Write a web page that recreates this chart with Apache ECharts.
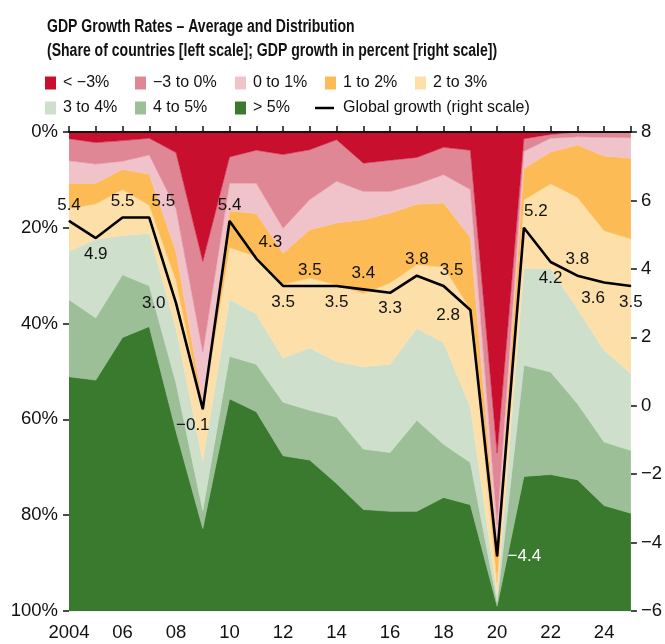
<!DOCTYPE html>
<html>
<head>
<meta charset="utf-8">
<script src="https://cdn.jsdelivr.net/npm/echarts@6/dist/echarts.min.js"></script>
<style>
  html, body { margin: 0; padding: 0; background: #fff; }
  #chart { width: 665px; height: 644px; }
</style>
</head>
<body>
<div id="chart"></div>
<script>
// years on the x axis
const years = ['2004', '2005', '2006', '2007', '2008', '2009', '2010', '2011', '2012', '2013', '2014',
    '2015', '2016', '2017', '2018', '2019', '2020', '2021', '2022', '2023', '2024', '2025'];

// share of countries in each growth bucket (percent)
const below3 = [1.4, 2.2, 1.8, 1.3, 4.3, 27.0, 5.2, 3.8, 4.7, 3.7, 1.6, 6.5, 5.9, 5.3, 3.2, 3.8, 67.0, 1.4, 0.5, 0.0, 0.0, 0.0];
const minus3to0 = [4.6, 4.5, 4.3, 3.5, 11.7, 19.0, 5.5, 6.9, 15.4, 10.4, 8.7, 5.9, 6.5, 5.6, 5.7, 8.2, 15.0, 2.6, 0.8, 1.0, 1.1, 1.2];
const zeroTo1 = [4.7, 4.0, 1.7, 4.0, 9.0, 10.4, 5.8, 6.3, 5.2, 6.3, 8.7, 5.9, 4.5, 4.2, 5.9, 10.0, 4.0, 3.6, 2.9, 1.7, 3.9, 4.3];
const oneTo2 = [5.3, 4.3, 4.2, 6.5, 6.0, 1.7, 7.6, 9.0, 6.5, 10.1, 12.9, 15.4, 14.6, 12.6, 13.4, 15.0, 8.0, 6.6, 6.6, 10.9, 15.6, 16.8];
const twoTo3 = [8.9, 7.4, 9.6, 5.9, 10.0, 10.6, 10.8, 12.0, 15.4, 14.6, 16.0, 15.3, 17.0, 13.3, 15.8, 20.4, 2.7, 14.3, 17.7, 23.3, 25.0, 28.1];
const threeTo4 = [10.1, 16.4, 8.2, 10.9, 11.4, 10.3, 11.9, 10.5, 9.2, 13.0, 11.6, 17.2, 18.4, 19.2, 21.2, 11.6, 1.5, 20.2, 21.6, 19.8, 19.1, 16.1];
const fourTo5 = [16.1, 13.0, 13.1, 8.5, 10.1, 3.8, 8.9, 9.9, 11.2, 10.4, 13.9, 12.6, 12.3, 19.0, 11.1, 8.8, 0.8, 23.2, 21.4, 15.9, 13.3, 13.1];
const above5 = [48.9, 48.2, 57.1, 59.4, 37.5, 17.2, 44.3, 41.6, 32.4, 31.5, 26.6, 21.2, 20.8, 20.8, 23.7, 22.2, 1.0, 28.1, 28.5, 27.4, 22.0, 20.4];

// global GDP growth, percent (right scale)
const globalGrowth = [5.4, 4.9, 5.5, 5.5, 3.0, -0.1, 5.4, 4.3, 3.5, 3.5, 3.5, 3.4, 3.3, 3.8, 3.5, 2.8, -4.4, 5.2, 4.2, 3.8, 3.6, 3.5];

const bandNames = ['< \u22123%', '\u22123 to 0%', '0 to 1%', '1 to 2%', '2 to 3%', '3 to 4%', '4 to 5%', '> 5%'];
const lineName = 'Global growth (right scale)';
const titleLines = ['GDP Growth Rates \u2013 Average and Distribution',
    '(Share of countries [left scale]; GDP growth in percent [right scale])'];

// styling
const FONT = '"Liberation Sans", Arial, sans-serif';
const bandColors = ['#c8102e', '#e08795', '#f0c3ca', '#fdbb55', '#fddfa9', '#cedfcc', '#9dbf98', '#3a7a2e'];
const labelPlace = ['top', 'bottom', 'top', 'top', 'left', 'bottom', 'top', 'top', 'bottom', 'top', 'bottom',
    'top', 'bottom', 'top', 'top', 'left', 'right', 'top', 'bottom', 'top', 'bottom', 'bottom'];
const labelShift = { 3: [14, 0], 5: [-10, 0], 7: [14, 0], 14: [8, 0], 15: [0, 5], 17: [12, 0], 20: [-11, 0] };

const minus = v => String(v).replace('-', '\u2212');

const chart = echarts.init(document.getElementById('chart'), null, { renderer: 'canvas' });

const bands = [below3, minus3to0, zeroTo1, oneTo2, twoTo3, threeTo4, fourTo5, above5];

const series = bands.map(function (vals, i) {
    return {
        name: bandNames[i],
        type: 'line',
        stack: 'share',
        yAxisIndex: 0,
        symbol: 'none',
        silent: true,
        data: vals,
        lineStyle: { width: 0.6, color: bandColors[i] },
        itemStyle: { color: bandColors[i] },
        areaStyle: { color: bandColors[i], opacity: 1 },
        z: 2
    };
});

series.push({
    name: lineName,
    type: 'line',
    yAxisIndex: 1,
    symbol: 'circle',
    symbolSize: 1,
    showSymbol: true,
    silent: true,
    z: 5,
    lineStyle: { color: '#000', width: 2.6 },
    itemStyle: { color: '#000' },
    data: globalGrowth.map(function (v, i) {
        const side = labelPlace[i] === 'left' || labelPlace[i] === 'right';
        return {
            value: v,
            label: {
                show: true,
                position: labelPlace[i],
                distance: side ? 10 : 7,
                offset: labelShift[i] || [0, 0],
                color: i === 16 ? '#fff' : '#111',
                fontSize: 17,
                fontFamily: FONT,
                formatter: function () { return minus(v.toFixed(1)); }
            }
        };
    })
});

// legend laid out in a grid like the original
const legendLeft = [45, 135, 235, 325, 415, 45, 135, 235];
const legendTop = [75, 75, 75, 75, 75, 100, 100, 100];
const legends = bandNames.map(function (name, i) {
    return {
        left: legendLeft[i],
        top: legendTop[i],
        padding: 0,
        icon: 'rect',
        itemWidth: 11,
        itemHeight: 13,
        selectedMode: false,
        data: [name],
        textStyle: { fontSize: 16, fontFamily: FONT, color: '#111', padding: [0, 0, 0, 2] }
    };
});
legends.push({
    left: 315,
    top: 100,
    padding: 0,
    itemWidth: 19,
    itemHeight: 2.5,
    selectedMode: false,
    data: [{ name: lineName, icon: 'rect' }],
    textStyle: { fontSize: 16, fontFamily: FONT, color: '#111', padding: [0, 0, 0, 4] }
});

const option = {
    animation: false,
    backgroundColor: '#fff',
    // two-line bold title, squeezed horizontally to mimic the narrow face of the original
    graphic: titleLines.map(function (t, i) {
        return {
            type: 'text',
            x: 47,
            y: 27 + i * 24,
            scaleX: 0.78,
            silent: true,
            style: {
                text: t,
                fontSize: 18,
                fontWeight: 'bold',
                fontFamily: FONT,
                fill: '#111',
                verticalAlign: 'middle'
            }
        };
    }),
    legend: legends,
    grid: { left: 69, right: 34, top: 132, bottom: 33 },
    xAxis: {
        type: 'category',
        data: years,
        boundaryGap: false,
        axisLine: { show: true, lineStyle: { color: '#111', width: 2 } },
        axisTick: { show: true, interval: 0, inside: true, length: 6, lineStyle: { color: '#111', width: 1.5 } },
        axisLabel: {
            interval: 1,
            margin: 12,
            fontSize: 18.5,
            fontFamily: FONT,
            color: '#111',
            formatter: function (v) { return v === '2004' ? v : v.slice(2); }
        },
        splitLine: { show: false },
        z: 10
    },
    yAxis: [
        {
            type: 'value',
            inverse: true,
            min: 0,
            max: 100,
            interval: 20,
            axisLine: { show: false },
            axisTick: { show: true, length: 6, lineStyle: { color: '#111', width: 1.5 } },
            axisLabel: { fontSize: 18.5, fontFamily: FONT, color: '#111', margin: 11, formatter: '{value}%' },
            splitLine: { show: false }
        },
        {
            type: 'value',
            min: -6,
            max: 8,
            interval: 2,
            position: 'right',
            axisLine: { show: false },
            axisTick: { show: true, length: 6, lineStyle: { color: '#111', width: 1.5 } },
            axisLabel: { fontSize: 18.5, fontFamily: FONT, color: '#111', margin: 10, formatter: minus },
            splitLine: { show: false }
        }
    ],
    series: series
};

chart.setOption(option);
</script>
</body>
</html>
